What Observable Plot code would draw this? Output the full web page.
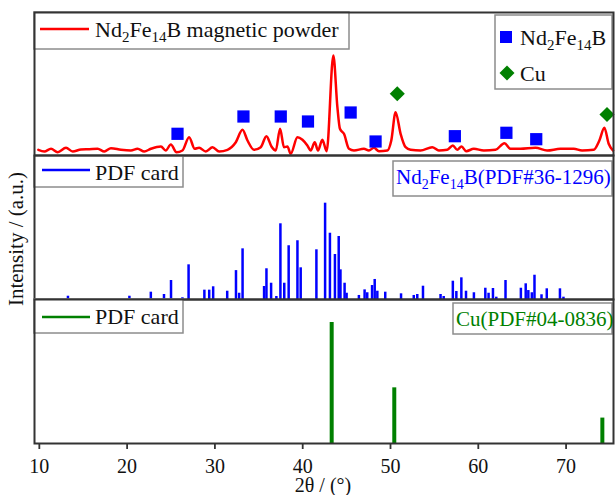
<!DOCTYPE html>
<html><head><meta charset="utf-8">
<script src="https://cdn.jsdelivr.net/npm/d3@7"></script>
<script src="https://cdn.jsdelivr.net/npm/@observablehq/plot@0.6"></script>
<style>
body{margin:0;background:#fff;}
#wrap{position:relative;width:615px;height:495px;overflow:hidden;background:#fff;}
#wrap svg{position:absolute;left:0;font-family:"Liberation Serif","Times New Roman",serif;}
#wrap svg text{font-family:"Liberation Serif","Times New Roman",serif;}
#wrap svg g[aria-label="x-axis tick label"]{font-size:20px;}
#wrap svg g[aria-label="x-axis tick label"] text{font-size:20px;fill:#111;}
</style></head>
<body><div id="wrap"></div>
<script>
// ---- data ----
const xDomain = [9.45, 75.4];
const xTicks = [10, 20, 30, 40, 50, 60, 70];

// measured XRD scan of Nd2Fe14B magnetic powder (2θ, relative intensity)
const scanT = [9.89,10.57,11.33,12.09,13.04,13.8,14.74,15.69,16.64,17.4,18.16,19.3,20.43,21.19,21.95,22.7,23.85,24.4,24.98,25.63,26.3,27.06,27.7,28.2,28.96,29.73,30.48,31.43,32.38,33.14,33.71,34.46,35.22,35.87,36.44,36.93,37.42,37.87,38.26,38.63,39.4,39.97,40.53,40.91,41.37,41.74,42.24,42.73,43.49,43.95,44.24,44.7,45.27,45.84,46.97,47.54,48.11,48.68,49.64,50.09,50.58,51.15,51.72,52.29,53.42,54.75,55.51,56.46,57.1,57.6,58.09,58.62,59.49,60.63,61.96,62.98,63.66,64.8,66.51,67.84,69.35,70.87,71.82,73.14,73.79,74.36,74.85,75.35];
const scanI = [5.7,4,6.7,3.3,7.7,4,6,6.3,6.7,4,7.3,5.7,5,6.7,4,6.7,9,5,11,3.3,5,18.3,6.7,7.7,4,8.3,4,5.7,13.3,25.7,15,5.7,8.3,19.3,9,5,26.7,8.3,9,1.7,18.3,15.7,10,5,13.3,5,15.7,4.3,100,48.3,26.7,21.7,6.7,5,6.7,5,7.7,4.3,5,15,43.3,21.7,8.3,5.7,5,8.3,5,5.7,10,5.7,9,4.3,6.7,5,5.7,12.3,6.7,6.7,7.7,5,6.7,6.7,5,5.7,15,27.7,11.7,5];

// phase markers above the scan
const ndMarkT = [25.74, 33.25, 37.5, 40.6, 45.46, 48.3, 57.33, 63.2, 66.6];
const ndMarkI = [21.7, 39, 39, 34, 43, 14, 19.3, 22.7, 16.3];
const cuMarkT = [50.77, 74.66];
const cuMarkI = [61.7, 41];

// PDF card Nd2Fe14B #36-1296
const pdfNdT = [13.26,20.26,22.7,24.2,25.0,26.3,27.0,28.8,29.35,29.8,31.4,32.4,32.76,33.15,35.6,35.87,36.4,37.0,37.46,37.9,38.4,39.4,39.77,41.56,42.55,43.1,43.67,44.1,44.3,44.77,45.0,46.4,47.05,47.35,47.9,48.2,48.5,49.4,51.2,52.65,53.05,53.7,55.7,56.06,57.1,57.5,58.07,58.6,59.5,60.8,61.17,61.67,62.05,63.1,64.85,65.4,65.7,66.1,66.4,67.2,67.8,69.3,69.7];
const pdfNdI = [3.4,3.4,7.6,5.2,19.7,1.8,36,9.7,9.7,13.2,8.6,30,6.5,52.6,13.5,31.9,16.9,3.1,78.6,16.9,55.8,61,32.9,51.6,100,68.8,46.7,65.4,30.8,16.9,6.5,4.2,10,7,14.5,20.8,8.6,7.6,5.9,4.2,5.2,13.8,5.2,3.1,19,8.3,22.5,8.6,7,11.7,6.5,11.4,2.4,19.7,11.7,16.3,9.3,7,25.2,4.9,11.1,11.1,2.4];

// PDF card Cu #04-0836
const pdfCuT = [43.3, 50.43, 74.13];
const pdfCuI = [100, 46, 21];

// ---- build tables ----
const scan = scanT.map((t, i) => ({t, i: scanI[i]}));
const ndMarks = ndMarkT.map((t, i) => ({t, i: ndMarkI[i]}));
const cuMarks = cuMarkT.map((t, i) => ({t, i: cuMarkI[i]}));
const pdfNd = pdfNdT.map((t, i) => ({t, i: pdfNdI[i]}));
const pdfCu = pdfCuT.map((t, i) => ({t, i: pdfCuI[i]}));

const FONT = '"Liberation Serif","Times New Roman",serif';
const RED = "#ff0000", BLUE = "#0000ff", GREEN = "#008000";
const FRAME = "#333", BOX = "#8c8c8c";

function rich(g, x, y, parts, size, fill, subSize, shift) {
  const t = g.append("text").attr("x", x).attr("y", y).attr("fill", fill)
    .attr("text-anchor", "start")
    .attr("font-size", size).attr("font-family", FONT);
  let down = false;
  for (const [s, sub] of parts) {
    const ts = t.append("tspan").text(s);
    if (sub) { ts.attr("font-size", subSize); if (!down) { ts.attr("dy", shift); down = true; } }
    else if (down) { ts.attr("dy", -shift); down = false; }
  }
  return t;
}
function box(g, x, y, w, h) {
  g.append("rect").attr("x", x).attr("y", y).attr("width", w).attr("height", h)
    .attr("fill", "#fff").attr("stroke", BOX).attr("stroke-width", 1.5);
}
function deco(fn) {
  return () => { const g = d3.create("svg:g"); fn(g); return g.node(); };
}
const ND = [["Nd", 0], ["2", 1], ["Fe", 0], ["14", 1]];

const common = {
  width: 615, marginLeft: 34, marginRight: 2,
  style: {fontFamily: FONT, background: "transparent", overflow: "visible"}
};

// ---- panel 1 : measured scan ----
const p1 = Plot.plot({
  ...common, height: 156, marginTop: 12, marginBottom: 1,
  x: {domain: xDomain, axis: null},
  y: {domain: [0, 143], axis: null},
  marks: [
    Plot.line(scan, {x: "t", y: "i", stroke: RED, strokeWidth: 2.5, curve: "monotone-x"}),
    Plot.dot(ndMarks, {x: "t", y: "i", symbol: "square", r: 6.9, fill: BLUE}),
    Plot.dot(cuMarks, {x: "t", y: "i", symbol: d3.symbolDiamond2, r: 6.8, fill: GREEN}),
    deco(g => {
      box(g, 34, 12, 315, 37);
      g.append("line").attr("x1", 40).attr("x2", 89).attr("y1", 29).attr("y2", 29)
        .attr("stroke", RED).attr("stroke-width", 2.5);
      rich(g, 95, 37, [...ND, ["B magnetic powder", 0]], 22, "#111", 15, 5);
      box(g, 495, 15, 117, 74);
      g.append("rect").attr("x", 500).attr("y", 31).attr("width", 12).attr("height", 12).attr("fill", BLUE);
      rich(g, 520, 45, [...ND, ["B", 0]], 22, "#111", 15, 5);
      g.append("path").attr("d", d3.symbol(d3.symbolDiamond2, 144)()).attr("transform", "translate(507,73)").attr("fill", GREEN);
      rich(g, 520, 81, [["Cu", 0]], 22, "#111", 15, 5);
    }),
    Plot.frame({stroke: FRAME, strokeWidth: 2})
  ]
});

// ---- panel 2 : Nd2Fe14B PDF card ----
const p2 = Plot.plot({
  ...common, height: 145, marginTop: 0, marginBottom: 1,
  x: {domain: xDomain, axis: null},
  y: {domain: [0, 149.5], axis: null},
  marks: [
    Plot.ruleX(pdfNd, {x: "t", y1: 0, y2: "i", stroke: BLUE, strokeWidth: 2.5}),
    deco(g => {
      box(g, 34, 1, 149, 31);
      g.append("line").attr("x1", 42).attr("x2", 90).attr("y1", 15).attr("y2", 15)
        .attr("stroke", BLUE).attr("stroke-width", 2.5);
      rich(g, 95, 25, [["PDF card", 0]], 22, "#111", 15, 5);
      box(g, 393, 6, 219, 35);
      rich(g, 396, 29, [...ND, ["B(PDF#36-1296)", 0]], 21, BLUE, 14, 5);
      g.append("text").attr("transform", "translate(23,84) rotate(-90)")
        .attr("text-anchor", "middle").attr("font-size", 21).attr("font-family", FONT)
        .attr("fill", "#111").text("Intensity / (a.u.)");
    }),
    Plot.frame({stroke: FRAME, strokeWidth: 2})
  ]
});

// ---- panel 3 : Cu PDF card + x axis ----
const p3 = Plot.plot({
  ...common, height: 196, marginTop: 0, marginBottom: 52,
  x: {domain: xDomain},
  y: {domain: [0, 119], axis: null},
  marks: [
    Plot.ruleX(pdfCu, {x: "t", y1: 0, y2: "i", stroke: GREEN, strokeWidth: 4}),
    Plot.axisX({ticks: xTicks, tickSize: 6, tickPadding: 9, tickFormat: d => String(d),
      label: null, stroke: FRAME, strokeWidth: 1.8, fill: "#111", fontSize: 20}),
    deco(g => {
      box(g, 34, 0, 149, 34);
      g.append("line").attr("x1", 42).attr("x2", 90).attr("y1", 18).attr("y2", 18)
        .attr("stroke", GREEN).attr("stroke-width", 2.5);
      rich(g, 95, 25, [["PDF card", 0]], 22, "#111", 15, 5);
      box(g, 453, 4, 159, 31);
      rich(g, 456, 27, [["Cu(PDF#04-0836)", 0]], 21, GREEN, 14, 5);
      g.append("text").attr("x", 323).attr("y", 193).attr("text-anchor", "middle")
        .attr("font-size", 20).attr("font-family", FONT).attr("fill", "#111").text("2θ / (°)");
    }),
    Plot.frame({stroke: FRAME, strokeWidth: 2})
  ]
});

const wrap = document.getElementById("wrap");
p1.style.top = "0px"; p2.style.top = "155px"; p3.style.top = "299px";
wrap.append(p1, p2, p3);
</script>
</body></html>
